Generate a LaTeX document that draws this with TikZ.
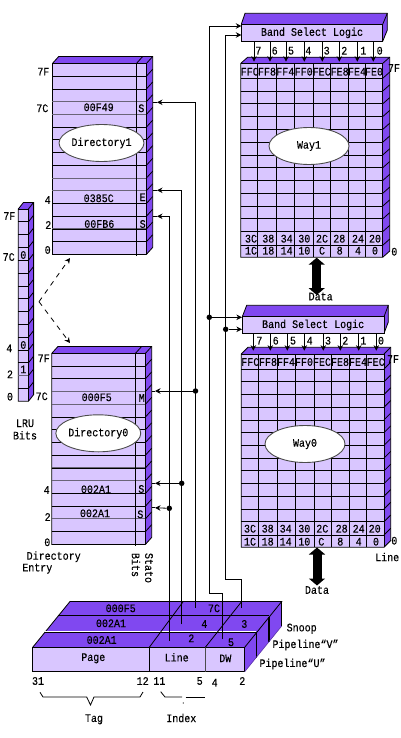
\documentclass[tikz,border=0pt]{standalone}
\usepackage{fontspec}
\setmainfont{Liberation Mono}[FakeStretch=0.87,FakeBold=0.25]
\usetikzlibrary{arrows.meta,shapes.geometric}
\definecolor{lite}{HTML}{D9C6FF}
\definecolor{deep}{HTML}{8048F0}
\definecolor{rowgray}{HTML}{6A6478}
\tikzset{
 lb/.style={font=\fontsize{11.5}{13}\selectfont,inner sep=0pt,text=black},
 ln/.style={draw=black,line width=0.8pt},
 tip/.style={-{Stealth[length=5.5pt,width=5.5pt]}},
 oval/.style={ellipse,draw=black!70,line width=0.9pt,fill=white,minimum width=80pt,minimum height=37pt,inner sep=0pt,font=\fontsize{11.5}{13}\selectfont},
 bandbox/.style={draw=black,line width=0.8pt,fill=lite,inner sep=0pt,font=\fontsize{11.5}{13}\selectfont},
 dot/.style={circle,fill=black,inner sep=0pt,minimum size=5.5pt},
 fat/.style={line width=9pt,{Triangle[width=16pt,length=7pt]}-{Triangle[width=16pt,length=7pt]}}
}
\newcommand{\boxd}[7]{% left, right, top, bottom, dx, dy, rows
 \fill[lite] (#1,#3) rectangle (#2,#4);
 \fill[deep] (#1,#3) -- (#1+#5,#3-#6) -- (#2+#5,#3-#6) -- (#2,#3) -- cycle;
 \fill[deep] (#2,#3) -- (#2+#5,#3-#6) -- (#2+#5,#4-#6) -- (#2,#4) -- cycle;
 \draw[ln] (#1,#3) -- (#1+#5,#3-#6) -- (#2+#5,#3-#6) -- (#2+#5,#4-#6) -- (#2,#4) -- (#1,#4) -- cycle;
 \draw[ln] (#1,#3) -- (#2,#3) -- (#2,#4);
 \draw[ln] (#2,#3) -- (#2+#5,#3-#6);
}
\begin{document}
\begin{tikzpicture}[x=1pt,y=-1pt]
\useasboundingbox (0,0) rectangle (400,738);
\fill[white] (0,0) rectangle (400,738);

% ---------- Directory 1
\boxd{52.4}{146.4}{63.5}{254.4}{6.3}{7}{15}
\foreach \k in {1,...,14}{\draw[ln] (52.4,63.5+12.73*\k) -- (146.4,63.5+12.73*\k);}
\foreach \k in {3,4,9,10,13}{\draw[rowgray,line width=1pt] (52.4,63.5+12.73*\k) -- (146.4,63.5+12.73*\k);}
\foreach \k in {1,...,14}{\draw[ln] (146.4,63.5+12.73*\k) -- (152.7,56.5+12.73*\k);}
\draw[ln] (136.4,63.5) -- (136.4,255.5);
\draw[ln] (136.4,63.5) -- (142.7,56.5);
\node[oval] (dir1) at (101.5,143) {Directory1};

% ---------- Directory 0
\boxd{51.7}{145.4}{353.4}{544.4}{6.3}{7}{15}
\foreach \k in {1,...,14}{\draw[ln] (51.7,353.4+12.73*\k) -- (145.4,353.4+12.73*\k);}
\foreach \k in {3,4,9,10,13}{\draw[rowgray,line width=1pt] (51.7,353.4+12.73*\k) -- (145.4,353.4+12.73*\k);}
\foreach \k in {1,...,14}{\draw[ln] (145.4,353.4+12.73*\k) -- (151.7,346.4+12.73*\k);}
\draw[ln] (135.4,353.4) -- (135.4,545.5);
\draw[ln] (135.4,353.4) -- (141.7,346.4);
\node[oval] (dir0) at (98.3,433.3) {Directory0};

% ---------- LRU
\boxd{18.3}{28.4}{209}{401.3}{5.2}{6.6}{15}
\foreach \k in {1,...,14}{\draw[ln] (18.3,209+12.82*\k) -- (28.4,209+12.82*\k);}
\draw[rowgray,line width=1pt] (18.3,209+12.82*13) -- (28.4,209+12.82*13);
\foreach \k in {1,...,14}{\draw[ln] (28.4,209+12.82*\k) -- (33.6,202.4+12.82*\k);}

% ---------- Way 1
\boxd{240.7}{382.7}{63.4}{257.3}{7}{6.2}{15}
\draw[ln] (240.7,78.3) -- (382.7,78.3);
\foreach \k in {1,...,12}{\draw[ln] (240.7,78.3+12.78*\k) -- (382.7,78.3+12.78*\k);}
\draw[ln] (240.7,245.3) -- (382.7,245.3);
\foreach \k in {0,...,12}{\draw[ln] (382.7,78.3+12.78*\k) -- (389.7,72.1+12.78*\k);}
\draw[ln] (382.7,245.3) -- (389.7,239.1);
\foreach \c in {257.4,276.7,294.7,313.4,330.7,348.7,365.7}{\draw[ln] (\c,63.4) -- (\c,257.3);}
\node[oval] (way1) at (309,146) {Way1};

% ---------- Way 0
\boxd{241.3}{384}{354}{547.3}{6.7}{6.7}{15}
\draw[ln] (241.3,369) -- (384,369);
\foreach \k in {1,...,12}{\draw[ln] (241.3,369+12.73*\k) -- (384,369+12.73*\k);}
\draw[ln] (241.3,535) -- (384,535);
\foreach \k in {0,...,12}{\draw[ln] (384,369+12.73*\k) -- (390.7,362.3+12.73*\k);}
\draw[ln] (384,535) -- (390.7,528.3);
\foreach \c in {258.3,277.3,295.3,314,331.3,349.3,366.3}{\draw[ln] (\c,354) -- (\c,547.3);}
\node[oval] (way0) at (305,444) {Way0};

% ---------- Band select logic boxes
\fill[deep] (241.3,24.3) -- (245,13.3) -- (387.3,13.3) -- (387.3,30) -- (382.7,41.3) -- (382.7,24.3) -- cycle;
\draw[ln] (241.3,24.3) -- (245,13.3) -- (387.3,13.3) -- (387.3,30) -- (382.7,41.3);
\draw[ln] (382.7,24.3) -- (387.3,13.3);
\node[bandbox,minimum width=141.4pt,minimum height=17pt] (band1) at (312,32.8) {Band Select Logic};
\fill[deep] (242.3,316.7) -- (246.7,305.3) -- (388.3,305.3) -- (388.3,322) -- (384,333.3) -- (384,316.7) -- cycle;
\draw[ln] (242.3,316.7) -- (246.7,305.3) -- (388.3,305.3) -- (388.3,322) -- (384,333.3);
\draw[ln] (384,316.7) -- (388.3,305.3);
\node[bandbox,minimum width=141.7pt,minimum height=16.6pt] (band0) at (313.15,325) {Band Select Logic};

% band -> way arrows
\foreach \x/\n [count=\i] in {254/7,270/6,286/5,304.3/4,322.3/3,339.3/2,357.3/1,373.3/0}{
  \coordinate (wa\i) at (\x,61.7);
  \draw[ln,tip] (band1.south -| wa\i) -- (wa\i);
}
\foreach \x/\n [count=\i] in {258.3/7,274.7/6,291/5,308.3/4,326.7/3,344.3/2,363.3/1,379.7/0}{
  \node[lb] (wn\i) at (\x,50.7) {\n};
}
\foreach \x/\n [count=\i] in {253.3/7,270.3/6,287.3/5,304.3/4,323.3/3,340.3/2,358.7/1,376.3/0}{
  \coordinate (wb\i) at (\x,350.7);
  \draw[ln,tip] (band0.south -| wb\i) -- (wb\i);
}
\foreach \x/\n [count=\i] in {259.3/7,275.7/6,293/5,309.7/4,328/3,345.3/2,363.3/1,381/0}{
  \node[lb] (wm\i) at (\x,340.7) {\n};
}

% way header / bottom labels
\foreach \x/\t [count=\i] in {249.7/FFC,267/FF8,285.3/FF4,303.7/FF0,321.7/FEC,339.7/FE8,357/FE4,374/FE0}{
  \node[lb] (h1a\i) at (\x,71.7) {\t};
}
\foreach \x/\t [count=\i] in {251/3C,268.3/38,286.7/34,304.3/30,322/2C,339.3/28,358/24,375/20}{
  \node[lb] (h1b\i) at (\x,238.7) {\t};
}
\foreach \x/\t [count=\i] in {251/1C,268.3/18,286.7/14,304.3/10,322/C,339.7/8,358/4,375/0}{
  \node[lb] (h1c\i) at (\x,250.7) {\t};
}
\foreach \x/\t [count=\i] in {250.3/FFC,268/FF8,286/FF4,304/FF0,322/FEC,340/FE8,358/FE4,375.7/FEC}{
  \node[lb] (h0a\i) at (\x,362) {\t};
}
\foreach \x/\t [count=\i] in {250/3C,267.7/38,285.7/34,304.3/30,322.3/2C,341.7/28,358.7/24,374.7/20}{
  \node[lb] (h0b\i) at (\x,528.7) {\t};
}
\foreach \x/\t [count=\i] in {250/1C,267.7/18,285.7/14,304.3/10,321.3/C,340.3/8,358.7/4,376/0}{
  \node[lb] (h0c\i) at (\x,541.7) {\t};
}

% side labels of the ways
\node[lb] (w17f) at (394,68) {7F};
\node[lb] (w10) at (394.3,251.7) {0};
\node[lb] (w07f) at (393,359) {7F};
\node[lb] (w00) at (394.3,540.7) {0};
\node[lb,anchor=west] (wline) at (375,557) {Line};

% data arrows
\coordinate (d1a) at (316.7,257.7);
\coordinate (d1b) at (316.7,295);
\draw[fat] (d1a) -- (d1b);
\node[lb] (data1) at (320.7,296.5) {Data};
\coordinate (d0a) at (317,547.5);
\coordinate (d0b) at (317,585.5);
\draw[fat] (d0a) -- (d0b);
\node[lb] (data0) at (317,590) {Data};

% ---------- pipeline block
\fill[deep] (32.7,647.3) -- (70,601.5) -- (281.7,601.5) -- (281.7,626) -- (244.7,671.7) -- (244.7,647.3) -- cycle;
\fill[lite] (32.7,647.3) rectangle (244.7,671.7);
\draw[ln] (32.7,647.3) rectangle (244.7,671.7);
\draw[ln] (149.3,647.3) -- (149.3,671.7);
\draw[black!70,line width=0.8pt] (205.3,647.3) -- (205.3,671.7);
\draw[ln] (32.7,647.3) -- (70,601.5) -- (281.7,601.5) -- (244.7,647.3);
% strip separators
\draw[ln] (45,632.7) -- (256.7,632.7);
\draw[ln] (57.7,615.7) -- (269,615.7);
\draw[white,line width=0.7pt] (45,631.2) -- (256,631.2);
% depth lines
\draw[ln] (149.3,647.3) -- (183.3,601.5);
\draw[ln] (205.3,647.3) -- (241.7,601.5);
\draw[ln] (281.7,601.5) -- (281.7,626);
\draw[ln] (256.7,632.7) -- (256.7,658);
\draw[line width=1.2pt] (269,616.7) -- (269,641.7);
\draw[deep!70!black,line width=0.6pt] (244.7,671.7) -- (281.7,626);
\foreach \x/\y/\t [count=\i] in {120.7/608.3/000F5,111/623.3/002A1,101.7/640/002A1,214/608.3/7C,204.3/624/4,191.3/638.3/2,244.3/624/3,231/642.3/5,93.3/658.3/Page,176.7/657.3/Line,225.3/658.3/DW,38/681/31,142.7/681/12,159.3/681/11,199.7/681/5,214.7/682.7/4,242.3/681/2,94/719.3/Tag,181.3/718/Index,301.7/628.7/Snoop}{
  \node[lb] (pl\i) at (\x,\y) {\t};
}
\node[lb] (pv) at (305.5,645) {Pipeline“V”};
\node[lb] (pu) at (292.5,664) {Pipeline“U”};

% braces
\coordinate (t1) at (40,692.3); \coordinate (t2) at (43,697); \coordinate (t3) at (86.7,697);
\coordinate (t4) at (90.5,705); \coordinate (t5) at (94,697); \coordinate (t6) at (140,697); \coordinate (t7) at (143,692);
\draw[ln] (t1) -- (t2) -- (t3) -- (t4) -- (t5) -- (t6) -- (t7);
\coordinate (i1) at (160.7,691.7); \coordinate (i2) at (165,697); \coordinate (i3) at (182,697);
\coordinate (i4) at (185.7,697); \coordinate (i5) at (205,697); \coordinate (i6) at (183.3,703);
\draw[ln] (i1) -- (i2) -- (i3);
\draw[ln] (i4) -- (i5);
\fill (i6) circle (0.6pt);

% ---------- directory labels
\foreach \x/\y/\t [count=\i] in {43.3/71.7/7F,42.3/108.3/7C,47.7/200/4,48.3/225/2,47.7/250/0,98.7/107.3/00F49,141.3/108.3/S,98.7/198.3/0385C,142.7/197.3/E,99.3/224/00FB6,142.7/224/S,9.3/216/7F,8.7/257/7C,9.3/348.3/4,10/374.3/2,10/396.7/0,23.3/255/0,23.3/345/0,23.3/369.3/1,25/423.3/LRU,25/435.3/Bits,43.7/358.3/7F,41.7/396.3/7C,46.7/490/4,47.7/517/2,47.3/542.3/0,96.7/397.3/000F5,141.7/398/M,96/489.3/002A1,141.3/489/S,95/513.3/002A1,140.3/514.3/S,53.7/556.7/Directory,37.3/568.7/Entry}{
  \node[lb] (dl\i) at (\x,\y) {\t};
}
\node[lb,rotate=-90] (stato) at (149,568) {Stato};
\node[lb,rotate=-90] (bitsr) at (136,565) {Bits};

% LRU cell marks
\draw[ln] (18.3,209+12.82*3) -- (28.4,209+12.82*3);

% ---------- dashed arrows
\coordinate (da) at (39,301.7);
\coordinate (db) at (70,258);
\coordinate (dc) at (70,343);
\draw[ln,dash pattern=on 5pt off 5pt,tip] (da) -- (db);
\draw[ln,dash pattern=on 5pt off 5pt,tip] (da) -- (dc);

% ---------- bus wires
\coordinate (sn) at (195.5,607.7);
\coordinate (pvw) at (181.7,624.3);
\coordinate (puw) at (169.7,640.7);
\coordinate (sn1) at (195.5,102.3); \coordinate (sn1a) at (157,102.3); \coordinate (sn1b) at (153,102.3);
\coordinate (pv1) at (181.7,190.3); \coordinate (pv1a) at (157,190.3); \coordinate (pv1b) at (153,190.3);
\coordinate (pu1) at (169.7,216.3); \coordinate (pu1a) at (157,216.3); \coordinate (pu1b) at (153,216.3);
\draw[ln,tip] (sn) -- (sn1) -- (sn1a); \draw[ln] (sn1a) -- (sn1b);
\draw[ln,tip] (pvw) -- (pv1) -- (pv1a); \draw[ln] (pv1a) -- (pv1b);
\draw[ln,tip] (puw) -- (pu1) -- (pu1a); \draw[ln] (pu1a) -- (pu1b);
\node[dot] (j1) at (195.5,391) {};
\node[dot] (j2) at (181.7,483.3) {};
\node[dot] (j3) at (169.3,508.3) {};
\coordinate (e1) at (155,391); \coordinate (e1b) at (151.5,391);
\coordinate (e2) at (155,483.3); \coordinate (e2b) at (151.5,483.3);
\coordinate (e3) at (155,507.8); \coordinate (e3b) at (151.5,507.8);
\draw[ln,tip] (j1) -- (e1); \draw[ln] (e1) -- (e1b);
\draw[ln,tip] (j2) -- (e2); \draw[ln] (e2) -- (e2b);
\draw[ln,tip] (j3) -- (e3); \draw[ln] (e3) -- (e3b);

% right pair
\coordinate (r1) at (241.3,26); \coordinate (r1v) at (209.3,26);
\coordinate (r1d) at (209.3,593.3); \coordinate (r1e) at (222.3,593.3); \coordinate (r1f) at (222.3,639);
\draw[ln,tip] (r1f) -- (r1e) -- (r1d) -- (r1v) -- (r1);
\coordinate (r2) at (241.3,35); \coordinate (r2v) at (225.7,35);
\coordinate (r2d) at (225.7,579.3); \coordinate (r2e) at (241.7,579.3); \coordinate (r2f) at (241.7,607.7);
\draw[ln,tip] (r2f) -- (r2e) -- (r2d) -- (r2v) -- (r2);
\node[dot] (j4) at (209.3,317.3) {};
\node[dot] (j5) at (225.7,329.3) {};
\draw[ln,tip] (j4) -- (band0.west |- j4);
\draw[ln,tip] (j5) -- (band0.west |- j5);
\end{tikzpicture}
\end{document}
